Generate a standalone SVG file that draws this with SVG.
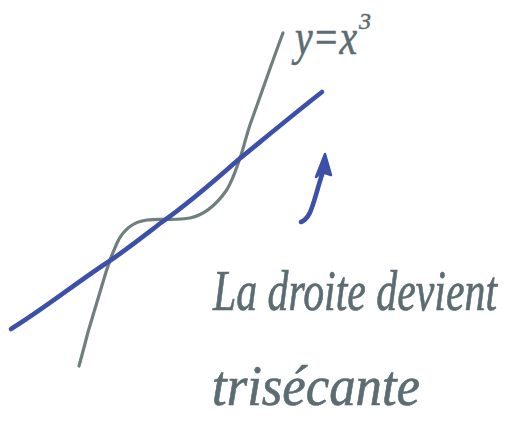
<svg xmlns="http://www.w3.org/2000/svg" width="510" height="423" viewBox="0 0 510 423">
<style>
.c{fill:none;stroke-linecap:round;stroke-linejoin:round}
.g{stroke:#6f7f7d;stroke-width:3.2}
.b{stroke:#3d50a8;stroke-width:4.6}
.t{font-family:"Liberation Serif",serif;font-style:italic;fill:#5b6c72;stroke:#5b6c72;stroke-width:.5}
</style>
<rect width="510" height="423" fill="#fff"/>
<g id="curve"><path class="c g" d="M283 33C272 62 262 92 251 122C246 136 244 147 240 158C236 170 232 182 226 191C216 205 204 215 190 218C175 221 160 218 147 220C132 222 123 230 117 243C112 254 109 262 106 272C100 292 94 312 88 332C85 344 82 355 79 366"/></g>
<g id="line"><path class="c b" d="M11 329C45 308 76 283 108 262C126 250 145 235 162 222C185 206 212 183 238 160C265 138 295 113 322 92"/></g>
<g id="arrow">
<path class="c b" d="M301 222C309 219 312 208 315 198C318 188 320 180 323 172"/>
<path d="M325 154L316 177L322 172L331 175Z" fill="#3d50a8" stroke="#3d50a8" stroke-width="2.5" stroke-linejoin="round"/>
</g>
<g id="labels">
<text class="t" transform="translate(295 54) scale(1 1.25)" font-size="40" textLength="62" lengthAdjust="spacingAndGlyphs">y=x</text>
<text class="t" x="359" y="29" font-size="24">3</text>
<text class="t" transform="translate(213 310) scale(1 1.35)" font-size="42" textLength="284" lengthAdjust="spacingAndGlyphs">La droite devient</text>
<text class="t" transform="translate(212 405) scale(1 1.35)" font-size="42" textLength="208" lengthAdjust="spacingAndGlyphs">trisécante</text>
</g>
</svg>
